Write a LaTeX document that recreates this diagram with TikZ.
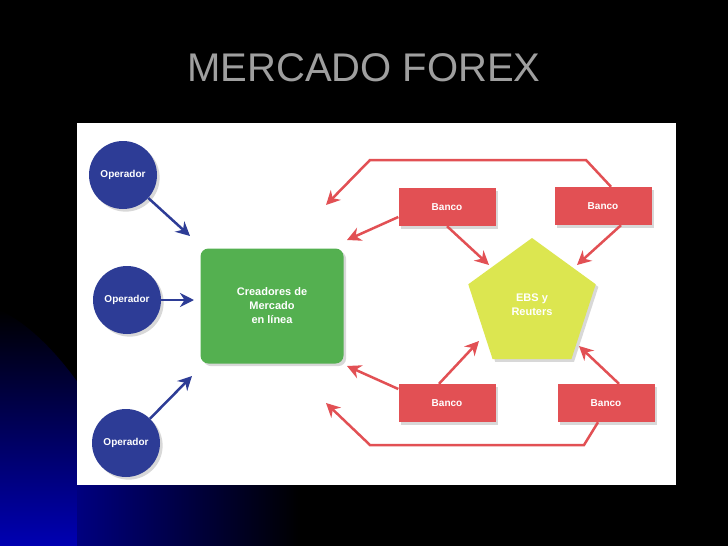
\documentclass[tikz,border=0pt]{standalone}
\usepackage{fontspec}
\setmainfont{Liberation Sans}
\usetikzlibrary{shapes.geometric,arrows.meta,shadows}
\begin{document}
\begin{tikzpicture}[x=1pt,y=-1pt,
  op/.style={circle,fill=blue!55!black!90!white,minimum size=68pt,inner sep=0pt,text=white,font=\bfseries\fontsize{10}{12}\selectfont,drop shadow={opacity=0.3}},
  banco/.style={rectangle,fill=red!70!white!90!black,minimum width=97pt,minimum height=38pt,text=white,font=\bfseries\fontsize{10}{12}\selectfont,drop shadow={opacity=0.3}},
  barrow/.style={draw=blue!55!black,line width=2.5pt,-{Stealth[length=14pt,width=14pt]}},
  rarrow/.style={draw=red!70!white!90!black,line width=2.5pt,-{Stealth[length=14pt,width=14pt]}}]
\definecolor{opblue}{RGB}{45,60,150}
\definecolor{bred}{RGB}{226,80,84}
\definecolor{mgreen}{RGB}{84,176,80}
\definecolor{pyellow}{RGB}{220,230,80}
\useasboundingbox (0,0) rectangle (728,546);
\fill[black] (0,0) rectangle (728,546);
\shade[top color=black,bottom color=blue!70!black] (0,310) .. controls (40,330) and (70,370) .. (90,400) -- (90,546) -- (0,546) -- cycle;
\shade[left color=blue!50!black,right color=black] (77,485) rectangle (300,546);
\fill[white] (77,123) rectangle (676,485);
\node[text=gray!75,font=\fontsize{40}{44}\selectfont] (title) at (364,68) {MERCADO FOREX};
\node[op,fill=opblue] (o1) at (123,175) {Operador};
\node[op,fill=opblue] (o2) at (127,300) {Operador};
\node[op,fill=opblue] (o3) at (126,443) {Operador};
\node[rectangle,rounded corners=8pt,fill=mgreen,minimum width=143pt,minimum height=115pt,text=white,align=center,font=\bfseries\fontsize{11}{14}\selectfont,drop shadow={opacity=0.3}] (cm) at (272,306) {Creadores de\\Mercado\\en línea};
\node[regular polygon,regular polygon sides=5,fill=pyellow,minimum size=134pt,inner sep=0pt,text=white,align=center,font=\bfseries\fontsize{11}{14}\selectfont,drop shadow={opacity=0.3}] (ebs) at (532,305) {EBS y\\Reuters};
\node[banco,fill=bred] (b1) at (447,207) {Banco};
\node[banco,fill=bred] (b2) at (603,206) {Banco};
\node[banco,fill=bred] (b3) at (447,403) {Banco};
\node[banco,fill=bred] (b4) at (606,403) {Banco};
\coordinate (t1) at (190,236); \coordinate (t2) at (194,300); \coordinate (t3) at (192,376);
\draw[barrow,draw=opblue] (o1) -- (t1);
\draw[barrow,draw=opblue] (o2.east) -- (t2);
\draw[barrow,draw=opblue] (o3) -- (t3);
\coordinate (r1) at (326,205); \coordinate (r2) at (347,240);
\coordinate (r3) at (347,366); \coordinate (r4) at (326,403);
\draw[rarrow,draw=bred] (b2.north) ++(8,0) -- (586,160) -- (370,160) -- (r1);
\draw[rarrow,draw=bred] (b1.west) ++(0,10) -- (r2);
\draw[rarrow,draw=bred] (b1.south) -- (489,265);
\draw[rarrow,draw=bred] (b2.south) ++(18,0) -- (577,265);
\draw[rarrow,draw=bred] (b3.west) ++(0,-14) -- (r3);
\draw[rarrow,draw=bred] (b3.north) ++(-8,0) -- (479,341);
\draw[rarrow,draw=bred] (b4.north) ++(13,0) -- (579,346);
\draw[rarrow,draw=bred] (b4.south) ++(-8,0) -- (584,445) -- (370,445) -- (r4);
\end{tikzpicture}
\end{document}
